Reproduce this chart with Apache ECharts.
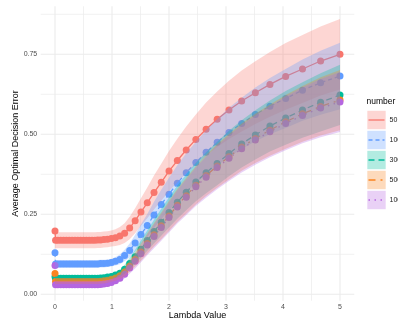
<!DOCTYPE html>
<html><head><meta charset="utf-8">
<script src="https://cdn.jsdelivr.net/npm/echarts@6/dist/echarts.min.js"></script>
<style>html,body{margin:0;padding:0;background:#fff}#c{width:398px;height:322px}</style>
</head><body><div id="c"></div>
<script>
const lambda = [0, 0.01, 0.05, 0.1, 0.15, 0.2, 0.25, 0.3, 0.35, 0.4, 0.45, 0.5, 0.55, 0.6, 0.65, 0.7, 0.75, 0.8, 0.858, 0.921, 0.988, 1.06, 1.138, 1.221, 1.31, 1.406, 1.508, 1.619, 1.737, 1.864, 2.0, 2.146, 2.302, 2.471, 2.651, 2.845, 3.052, 3.275, 3.515, 3.771, 4.047, 4.342, 4.66, 5.0];

const groupNames = ['50', '100', '300', '500', '1000'];
const groupColors = ['#F8766D', '#619CFF', '#00BC9B', '#FA8420', '#B566E0'];
const groupDashes = ['solid', [4, 3], [6, 4], [7, 5, 2, 5], [1.5, 4.5]];

const mean50 = [0.198, 0.169, 0.169, 0.169, 0.169, 0.169, 0.169, 0.169, 0.169, 0.169, 0.169, 0.169, 0.169, 0.169, 0.169, 0.169, 0.17, 0.17, 0.171, 0.172, 0.174, 0.177, 0.182, 0.191, 0.207, 0.23, 0.257, 0.286, 0.318, 0.35, 0.385, 0.418, 0.451, 0.484, 0.516, 0.547, 0.576, 0.604, 0.63, 0.656, 0.681, 0.704, 0.729, 0.75];
const upper50 = [0.194, 0.194, 0.194, 0.194, 0.194, 0.194, 0.194, 0.194, 0.194, 0.194, 0.194, 0.194, 0.194, 0.194, 0.194, 0.194, 0.195, 0.195, 0.196, 0.197, 0.199, 0.203, 0.210, 0.222, 0.242, 0.269, 0.300, 0.334, 0.371, 0.408, 0.448, 0.486, 0.524, 0.562, 0.599, 0.634, 0.667, 0.699, 0.728, 0.757, 0.785, 0.810, 0.837, 0.860];
const lower50 = [0.144, 0.144, 0.144, 0.144, 0.144, 0.144, 0.144, 0.144, 0.144, 0.144, 0.144, 0.144, 0.144, 0.144, 0.144, 0.144, 0.145, 0.145, 0.146, 0.147, 0.149, 0.151, 0.154, 0.160, 0.172, 0.191, 0.214, 0.238, 0.265, 0.292, 0.322, 0.350, 0.378, 0.406, 0.433, 0.460, 0.485, 0.509, 0.532, 0.555, 0.577, 0.598, 0.621, 0.640];

const mean100 = [0.13, 0.095, 0.095, 0.095, 0.095, 0.095, 0.095, 0.095, 0.095, 0.095, 0.095, 0.095, 0.095, 0.095, 0.095, 0.095, 0.095, 0.096, 0.096, 0.097, 0.099, 0.103, 0.109, 0.121, 0.137, 0.16, 0.187, 0.215, 0.248, 0.281, 0.313, 0.347, 0.38, 0.412, 0.444, 0.475, 0.506, 0.534, 0.562, 0.588, 0.612, 0.638, 0.661, 0.682];
const upper100 = [0.107, 0.107, 0.107, 0.107, 0.107, 0.107, 0.107, 0.107, 0.107, 0.107, 0.107, 0.107, 0.107, 0.107, 0.107, 0.107, 0.107, 0.108, 0.108, 0.109, 0.111, 0.116, 0.124, 0.139, 0.159, 0.186, 0.218, 0.251, 0.289, 0.327, 0.364, 0.403, 0.441, 0.477, 0.513, 0.548, 0.583, 0.614, 0.646, 0.676, 0.704, 0.734, 0.761, 0.786];
const lower100 = [0.083, 0.083, 0.083, 0.083, 0.083, 0.083, 0.083, 0.083, 0.083, 0.083, 0.083, 0.083, 0.083, 0.083, 0.083, 0.083, 0.083, 0.084, 0.084, 0.085, 0.087, 0.090, 0.094, 0.103, 0.115, 0.134, 0.156, 0.179, 0.207, 0.235, 0.262, 0.291, 0.319, 0.347, 0.375, 0.402, 0.429, 0.454, 0.478, 0.500, 0.520, 0.542, 0.561, 0.578];

const mean300 = [0.055, 0.05, 0.05, 0.05, 0.05, 0.05, 0.05, 0.05, 0.05, 0.05, 0.05, 0.05, 0.05, 0.05, 0.05, 0.05, 0.05, 0.051, 0.052, 0.054, 0.056, 0.06, 0.066, 0.078, 0.096, 0.117, 0.141, 0.168, 0.196, 0.225, 0.256, 0.288, 0.319, 0.351, 0.38, 0.409, 0.44, 0.47, 0.498, 0.526, 0.551, 0.576, 0.6, 0.623];
const upper300 = [0.058, 0.058, 0.058, 0.058, 0.058, 0.058, 0.058, 0.058, 0.058, 0.058, 0.058, 0.058, 0.058, 0.058, 0.058, 0.058, 0.058, 0.059, 0.060, 0.062, 0.064, 0.069, 0.077, 0.092, 0.114, 0.139, 0.168, 0.200, 0.233, 0.267, 0.303, 0.340, 0.375, 0.411, 0.444, 0.477, 0.511, 0.544, 0.575, 0.606, 0.635, 0.663, 0.691, 0.717];
const lower300 = [0.042, 0.042, 0.042, 0.042, 0.042, 0.042, 0.042, 0.042, 0.042, 0.042, 0.042, 0.042, 0.042, 0.042, 0.042, 0.042, 0.042, 0.043, 0.044, 0.046, 0.048, 0.051, 0.055, 0.064, 0.078, 0.095, 0.114, 0.136, 0.159, 0.183, 0.209, 0.236, 0.263, 0.291, 0.316, 0.341, 0.369, 0.396, 0.421, 0.446, 0.467, 0.489, 0.509, 0.529];

const mean500 = [0.065, 0.04, 0.04, 0.04, 0.04, 0.04, 0.04, 0.04, 0.04, 0.04, 0.04, 0.04, 0.04, 0.04, 0.04, 0.04, 0.04, 0.041, 0.042, 0.044, 0.047, 0.051, 0.058, 0.07, 0.088, 0.109, 0.132, 0.159, 0.186, 0.214, 0.245, 0.278, 0.308, 0.341, 0.371, 0.401, 0.43, 0.46, 0.487, 0.513, 0.539, 0.564, 0.587, 0.607];
const upper500 = [0.048, 0.048, 0.048, 0.048, 0.048, 0.048, 0.048, 0.048, 0.048, 0.048, 0.048, 0.048, 0.048, 0.048, 0.048, 0.048, 0.048, 0.049, 0.050, 0.052, 0.055, 0.060, 0.069, 0.084, 0.106, 0.131, 0.159, 0.191, 0.223, 0.256, 0.292, 0.330, 0.364, 0.401, 0.435, 0.469, 0.501, 0.534, 0.564, 0.593, 0.623, 0.651, 0.678, 0.701];
const lower500 = [0.032, 0.032, 0.032, 0.032, 0.032, 0.032, 0.032, 0.032, 0.032, 0.032, 0.032, 0.032, 0.032, 0.032, 0.032, 0.032, 0.032, 0.033, 0.034, 0.036, 0.039, 0.042, 0.047, 0.056, 0.070, 0.087, 0.105, 0.127, 0.149, 0.172, 0.198, 0.226, 0.252, 0.281, 0.307, 0.333, 0.359, 0.386, 0.410, 0.433, 0.455, 0.477, 0.496, 0.513];

const mean1000 = [0.09, 0.03, 0.03, 0.03, 0.03, 0.03, 0.03, 0.03, 0.03, 0.03, 0.03, 0.03, 0.03, 0.03, 0.03, 0.03, 0.03, 0.031, 0.032, 0.034, 0.037, 0.042, 0.05, 0.063, 0.082, 0.103, 0.127, 0.154, 0.181, 0.209, 0.24, 0.273, 0.303, 0.336, 0.366, 0.396, 0.425, 0.455, 0.482, 0.508, 0.534, 0.559, 0.582, 0.601];
const upper1000 = [0.038, 0.038, 0.038, 0.038, 0.038, 0.038, 0.038, 0.038, 0.038, 0.038, 0.038, 0.038, 0.038, 0.038, 0.038, 0.038, 0.038, 0.039, 0.040, 0.042, 0.045, 0.051, 0.061, 0.077, 0.100, 0.125, 0.154, 0.186, 0.218, 0.251, 0.287, 0.325, 0.359, 0.396, 0.430, 0.464, 0.496, 0.529, 0.559, 0.588, 0.618, 0.646, 0.673, 0.695];
const lower1000 = [0.022, 0.022, 0.022, 0.022, 0.022, 0.022, 0.022, 0.022, 0.022, 0.022, 0.022, 0.022, 0.022, 0.022, 0.022, 0.022, 0.022, 0.023, 0.024, 0.026, 0.029, 0.033, 0.039, 0.049, 0.064, 0.081, 0.100, 0.122, 0.144, 0.167, 0.193, 0.221, 0.247, 0.276, 0.302, 0.328, 0.354, 0.381, 0.405, 0.428, 0.450, 0.472, 0.491, 0.507];

const xTickLabels = [0, 1, 2, 3, 4, 5];
const yTickLabels = [0, 0.25, 0.5, 0.75];
const xGridBreaks = [0, 0.5, 1, 1.5, 2, 2.5, 3, 3.5, 4, 4.5, 5];
const yGridBreaks = [0, 0.125, 0.25, 0.375, 0.5, 0.625, 0.75, 0.875];

const means = [mean50, mean100, mean300, mean500, mean1000];
const uppers = [upper50, upper100, upper300, upper500, upper1000];
const lowers = [lower50, lower100, lower300, lower500, lower1000];

const X_MIN = -0.25, X_MAX = 5.25, Y_MIN = -0.02, Y_MAX = 0.9;
const FONT = 'Liberation Sans, Arial, sans-serif';

const chart = echarts.init(document.getElementById('c'), null, {renderer: 'canvas'});

const series = [];
series.push({
  type: 'custom', silent: true, z: 0, animation: false,
  data: yGridBreaks.map(v => [v, yTickLabels.includes(v) ? 1 : 0]),
  renderItem: (params, api) => {
    const v = api.value(0), major = api.value(1);
    const a = api.coord([X_MIN, v]), b = api.coord([X_MAX, v]);
    return {type: 'line', shape: {x1: a[0], y1: a[1], x2: b[0], y2: b[1]},
      style: {stroke: '#EBEBEB', lineWidth: major ? 1.1 : 0.7}};
  }
});
series.push({
  type: 'custom', silent: true, z: 0, animation: false,
  data: xGridBreaks.map(v => [v, xTickLabels.includes(v) ? 1 : 0]),
  renderItem: (params, api) => {
    const v = api.value(0), major = api.value(1);
    const a = api.coord([v, Y_MIN]), b = api.coord([v, Y_MAX]);
    return {type: 'line', shape: {x1: a[0], y1: a[1], x2: b[0], y2: b[1]},
      style: {stroke: '#EBEBEB', lineWidth: major ? 1.1 : 0.7}};
  }
});
groupNames.forEach((name, g) => {
  series.push({
    type: 'line', name: name, z: 2, animation: false,
    data: lambda.map((x, i) => [x, means[g][i]]),
    symbol: 'circle', symbolSize: 7, showSymbol: true,
    itemStyle: {color: groupColors[g]},
    lineStyle: {color: groupColors[g], width: 1.3, type: groupDashes[g]},
    emphasis: {disabled: true}
  });
});
groupNames.forEach((name, g) => {
  series.push({
    type: 'custom', z: 3, silent: true, animation: false,
    data: [[0, 0]],
    renderItem: (params, api) => {
      const pts = [];
      for (let i = 0; i < lambda.length; i++) pts.push(api.coord([lambda[i], uppers[g][i]]));
      for (let i = lambda.length - 1; i >= 0; i--) pts.push(api.coord([lambda[i], lowers[g][i]]));
      return {type: 'polygon', shape: {points: pts},
        style: {fill: groupColors[g], opacity: 0.3}};
    }
  });
});

const legendEls = [{
  type: 'text', left: 366.5, top: 97,
  style: {text: 'number', font: '8.5px ' + FONT, fill: '#000'}
}];
groupNames.forEach((name, g) => {
  const y0 = 110.8 + g * 20;
  legendEls.push({type: 'rect', shape: {x: 367.3, y: y0, width: 18.4, height: 18.4},
    style: {fill: groupColors[g], opacity: 0.3}});
  legendEls.push({type: 'line', shape: {x1: 368.5, y1: y0 + 9.2, x2: 384.5, y2: y0 + 9.2},
    style: {stroke: groupColors[g], lineWidth: 1.3,
      lineDash: groupDashes[g] === 'solid' ? null : groupDashes[g]}});
  legendEls.push({type: 'text', x: 389.5, y: y0 + 9.2,
    style: {text: name, font: '7px ' + FONT, fill: '#1a1a1a', verticalAlign: 'middle'}});
});

chart.setOption({
  animation: false,
  backgroundColor: '#fff',
  grid: {left: 40.75, right: 43.75, top: 6.3, bottom: 21.3, containLabel: false, outerBoundsMode: 'none'},
  xAxis: {
    type: 'value', min: X_MIN, max: X_MAX,
    name: 'Lambda Value', nameLocation: 'middle', nameGap: 10, nameMoveOverlap: false,
    nameTextStyle: {fontSize: 9, color: '#000', fontFamily: FONT},
    axisLine: {show: false}, axisTick: {show: false}, splitLine: {show: false},
    axisLabel: {customValues: xTickLabels, formatter: v => String(v), fontSize: 7, color: '#4d4d4d', fontFamily: FONT, margin: 2.5}
  },
  yAxis: {
    type: 'value', min: Y_MIN, max: Y_MAX,
    name: 'Average Optimal Decision Error', nameLocation: 'middle', nameGap: 21, nameMoveOverlap: false,
    nameTextStyle: {fontSize: 9, color: '#000', fontFamily: FONT},
    axisLine: {show: false}, axisTick: {show: false}, splitLine: {show: false},
    axisLabel: {customValues: yTickLabels, formatter: v => v.toFixed(2), fontSize: 7, color: '#4d4d4d', fontFamily: FONT, margin: 3.5}
  },
  series: series,
  graphic: legendEls
});
</script></body></html>
